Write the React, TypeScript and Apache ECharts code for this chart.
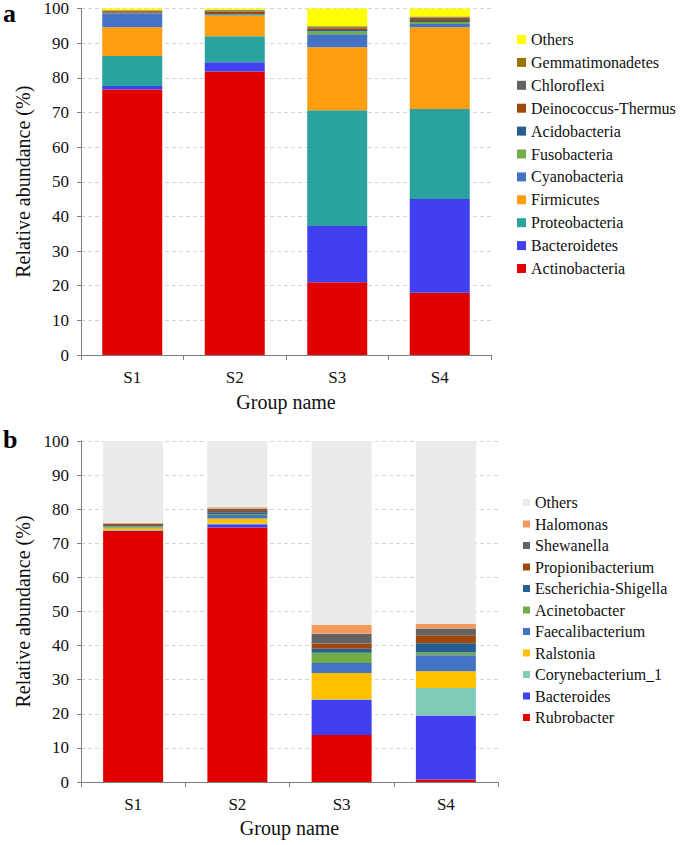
import React, { useEffect, useRef } from "react";
import * as echarts from "echarts";

const groups = ["S1", "S2", "S3", "S4"];
const yTicksMin = 0;
const yTicksMax = 100;

// Panel a: phylum level
const phylumNames = [
  "Actinobacteria",
  "Bacteroidetes",
  "Proteobacteria",
  "Firmicutes",
  "Cyanobacteria",
  "Fusobacteria",
  "Acidobacteria",
  "Deinococcus-Thermus",
  "Chloroflexi",
  "Gemmatimonadetes",
  "Others",
];
const phylumColors = [
  "#e00000",
  "#4040f0",
  "#2aa39f",
  "#ff9e10",
  "#4472c4",
  "#70ad47",
  "#255e91",
  "#9e480e",
  "#636363",
  "#997300",
  "#ffff00",
];
const phylumS1 = [76.6, 1.0, 8.7, 8.3, 4.0, 0.1, 0.1, 0.4, 0.1, 0.2, 0.5];
const phylumS2 = [81.8, 2.7, 7.5, 5.8, 0.2, 0.3, 0.1, 0.7, 0.3, 0.2, 0.4];
const phylumS3 = [21.0, 16.2, 33.4, 18.2, 3.8, 0.8, 0.4, 0.5, 0.3, 0.3, 5.1];
const phylumS4 = [18.0, 27.0, 26.0, 23.6, 0.9, 0.6, 0.3, 0.6, 0.4, 0.3, 2.3];

// Panel b: genus level
const genusNames = [
  "Rubrobacter",
  "Bacteroides",
  "Corynebacterium_1",
  "Ralstonia",
  "Faecalibacterium",
  "Acinetobacter",
  "Escherichia-Shigella",
  "Propionibacterium",
  "Shewanella",
  "Halomonas",
  "Others",
];
const genusColors = [
  "#e00000",
  "#4040f0",
  "#82cbb8",
  "#ffc000",
  "#4472c4",
  "#70ad47",
  "#255e91",
  "#9e480e",
  "#636363",
  "#f29a5e",
  "#ebebeb",
];
const genusS1 = [73.6, 0.1, 0.2, 0.5, 0.2, 0.4, 0.1, 0.3, 0.3, 0.3, 24.0];
const genusS2 = [74.6, 1.0, 0.2, 1.5, 1.0, 0.3, 0.5, 0.4, 0.6, 0.5, 19.4];
const genusS3 = [13.8, 10.3, 0.2, 7.7, 2.9, 3.0, 1.2, 1.5, 2.9, 2.6, 53.9];
const genusS4 = [0.7, 18.8, 8.1, 4.9, 4.7, 0.8, 2.7, 2.3, 2.0, 1.4, 53.6];

const FONT = '"Liberation Serif", "Times New Roman", serif';
const TEXT = "#111111";
const AXIS = "#7f7f7f";

export default function App() {
  const ref = useRef<HTMLDivElement>(null);
  useEffect(() => {
    if (!ref.current) return;
    const chart = echarts.init(ref.current, null, { renderer: "svg" });

    const phylumBySample = [phylumS1, phylumS2, phylumS3, phylumS4];
    const genusBySample = [genusS1, genusS2, genusS3, genusS4];
    const bKey = (n: string) => (n === "Others" ? "Others_b" : n);

    const series: any[] = [];
    phylumNames.forEach((n, i) => {
      series.push({
        type: "bar",
        name: n,
        stack: "a",
        xAxisIndex: 0,
        yAxisIndex: 0,
        barWidth: 60,
        itemStyle: { color: phylumColors[i] },
        data: phylumBySample.map((s) => s[i]),
      });
    });
    genusNames.forEach((n, i) => {
      series.push({
        type: "bar",
        name: bKey(n),
        stack: "b",
        xAxisIndex: 1,
        yAxisIndex: 1,
        barWidth: 60,
        itemStyle: { color: genusColors[i] },
        data: genusBySample.map((s) => s[i]),
      });
    });

    const xAxisBase = (nameGap: number) => ({
      type: "category",
      data: groups,
      name: "Group name",
      nameLocation: "middle",
      nameGap,
      nameTextStyle: { fontFamily: FONT, fontSize: 20, color: TEXT },
      axisLine: { lineStyle: { color: AXIS, width: 1 } },
      axisTick: { show: true, length: 5, lineStyle: { color: AXIS } },
      axisLabel: { fontFamily: FONT, fontSize: 17, color: TEXT, margin: 14 },
    });
    const yAxisBase = () => ({
      type: "value",
      min: yTicksMin,
      max: yTicksMax,
      interval: 10,
      name: "Relative abundance (%)",
      nameLocation: "middle",
      nameGap: 47,
      nameTextStyle: { fontFamily: FONT, fontSize: 20, color: TEXT },
      axisLine: { show: true, lineStyle: { color: AXIS, width: 1 } },
      axisTick: { show: true, length: 4, lineStyle: { color: AXIS } },
      axisLabel: { fontFamily: FONT, fontSize: 17, color: TEXT, margin: 12 },
      splitLine: {
        show: true,
        lineStyle: { color: "#d4d4d4", type: [4, 3], width: 1 },
      },
    });

    chart.setOption({
      animation: false,
      backgroundColor: "#ffffff",
      grid: [
        { left: 81, top: 8, width: 410, height: 347 },
        { left: 81, top: 441, width: 417, height: 341 },
      ],
      xAxis: [
        { ...xAxisBase(37), gridIndex: 0 },
        { ...xAxisBase(36), gridIndex: 1 },
      ],
      yAxis: [
        { ...yAxisBase(), gridIndex: 0 },
        { ...yAxisBase(), gridIndex: 1 },
      ],
      legend: [
        {
          orient: "vertical",
          left: 517,
          top: 31.5,
          padding: 0,
          icon: "rect",
          itemWidth: 9,
          itemHeight: 9,
          itemGap: 6.9,
          selectedMode: false,
          data: [...phylumNames].reverse(),
          textStyle: {
            fontFamily: FONT,
            fontSize: 16,
            lineHeight: 16,
            color: TEXT,
          },
        },
        {
          orient: "vertical",
          left: 523,
          top: 494.5,
          padding: 0,
          icon: "rect",
          itemWidth: 7,
          itemHeight: 7,
          itemGap: 5.5,
          selectedMode: false,
          data: [...genusNames].reverse().map(bKey),
          formatter: (n: string) => (n === "Others_b" ? "Others" : n),
          textStyle: {
            fontFamily: FONT,
            fontSize: 16,
            lineHeight: 16,
            color: TEXT,
          },
        },
      ],
      graphic: [
        {
          type: "text",
          left: 3,
          top: 0,
          style: {
            text: "a",
            font: `bold 26px "Liberation Serif"`,
            fill: "#000",
          },
        },
        {
          type: "text",
          left: 3,
          top: 426,
          style: {
            text: "b",
            font: `bold 26px "Liberation Serif"`,
            fill: "#000",
          },
        },
      ],
      series,
    });

    return () => chart.dispose();
  }, []);

  return (
    <div
      ref={ref}
      style={{ position: "absolute", left: 0, top: 0, width: 685, height: 845 }}
    />
  );
}
